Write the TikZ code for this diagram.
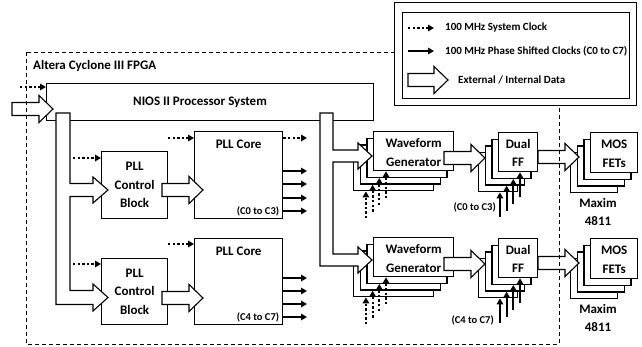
\documentclass[tikz,border=0pt]{standalone}
\usepackage{fontspec}
\setmainfont{Carlito}
\usetikzlibrary{arrows.meta,calc}
\tikzset{
 box/.style={draw, line width=1.3pt, fill=white, inner sep=0pt, anchor=north west},
 fat/.style={draw, line width=1.1pt, fill=white, line join=miter},
 clk/.style={line width=2pt, dash pattern=on 2.4pt off 2.2pt, -{Triangle[length=6pt,width=6.5pt]}},
 phs/.style={line width=2pt, -{Triangle[length=6pt,width=6.5pt]}},
 lbl/.style={font=\bfseries\fontsize{13}{18.5}\selectfont, inner sep=0pt, align=center},
 sml/.style={font=\bfseries\fontsize{10.5}{12}\selectfont, inner sep=0pt},
 leg/.style={font=\bfseries\fontsize{11}{12}\selectfont, inner sep=0pt, anchor=west},
 frame/.style={line width=0.9pt, dash pattern=on 4pt off 3pt},
}
\newcommand\bx[5]{\node[box,minimum width={((#4)-(#2))*1pt},minimum height={((#5)-(#3))*1pt}] (#1) at (#2,#3) {};}
\newcommand\stk[5]{%
 \foreach \k in {3,2,1}{\bx{#1-\k}{#2-6.7*\k}{#3+6.7*\k}{#4-6.7*\k}{#5+6.7*\k}}
 \bx{#1}{#2}{#3}{#4}{#5}}
\newcommand\fat[3]{\path[fat] (#1,#3-6.5) -- (#2-14,#3-6.5) -- (#2-14,#3-13.5) -- (#2,#3) -- (#2-14,#3+13.5) -- (#2-14,#3+6.5) -- (#1,#3+6.5) -- cycle;}
\begin{document}
\begin{tikzpicture}[x=1pt,y=-1pt]
\path[use as bounding box, fill=white] (0,0) rectangle (642,347);
% NIOS
\bx{nios}{46}{83}{373}{120}
\node[lbl] (niosT) at (200,102) {NIOS II Processor System};
% PLL blocks
\bx{ctlA}{101}{151}{167}{218}
\bx{coreA}{194}{131}{282}{218}
\bx{ctlB}{101}{258}{167}{324}
\bx{coreB}{194}{238}{282}{324}
\node[lbl] at (ctlA) {PLL\\Control\\Block};
\node[lbl] at (ctlB) {PLL\\Control\\Block};
\node[lbl] at ([yshift=-13pt]coreA.north) {PLL Core};
\node[lbl] at ([yshift=-13pt]coreB.north) {PLL Core};
\node[sml,anchor=east] at ([xshift=-4pt,yshift=8pt]coreA.south east) {(C0 to C3)};
\node[sml,anchor=east] at ([xshift=-4pt,yshift=8pt]coreB.south east) {(C4 to C7)};
% stacks
\stk{wgA}{373}{131}{453}{170}
\stk{ffA}{498}{132}{537}{171}
\stk{mosA}{590}{132}{637}{172}
\stk{wgB}{373}{237}{453}{276}
\stk{ffB}{498}{238}{537}{277}
\stk{mosB}{590}{238}{637}{278}
\node[lbl] at ([yshift=-1.5pt]wgA) {Waveform\\Generator};
\node[lbl] at ([yshift=-1.5pt]wgB) {Waveform\\Generator};
\node[lbl] at ([yshift=-1pt]ffA) {Dual\\FF};
\node[lbl] at ([yshift=-1pt]ffB) {Dual\\FF};
\node[lbl] at ([yshift=-1pt]mosA) {MOS\\FETs};
\node[lbl] at ([yshift=-1pt]mosB) {MOS\\FETs};
\node[lbl] at (598,203) {Maxim};
\node[lbl] at (598,221) {4811};
\node[lbl] at (598,309) {Maxim};
\node[lbl] at (598,327) {4811};
% buses
\path[fat] (56,113) -- (70,113) -- (70,183.5) -- (93,183.5) -- (93,177) -- (108,190) -- (93,203) -- (93,196.5) -- (70,196.5) -- (70,290.5) -- (93,290.5) -- (93,284) -- (108,297.5) -- (93,311) -- (93,304.5) -- (56,304.5) -- cycle;
\path[fat] (320,113) -- (333,113) -- (333,150) -- (358,150) -- (358,143) -- (372,156) -- (358,169) -- (358,162) -- (333,162) -- (333,254) -- (358,254) -- (358,247) -- (372,260) -- (358,273) -- (358,266) -- (320,266) -- cycle;
% fat arrows
\fat{12}{53}{109}
\fat{162}{203}{190}
\fat{162}{203}{298}
\fat{444}{485}{158}
\fat{444}{485}{264}
\fat{538}{579}{157}
\fat{538}{579}{263}
% clocks
\draw[clk] (20,87) -- (nios.west |- 0,87);
\draw[clk] (73,158) -- (ctlA.west |- 0,158);
\draw[clk] (168,138) -- (coreA.west |- 0,138);
\draw[clk] (coreA.east |- 0,138) -- (307,138);
\draw[clk] (73,264) -- (ctlB.west |- 0,264);
\draw[clk] (168,244) -- (coreB.west |- 0,244);
\foreach \y in {171,184,198,211} \draw[phs] (coreA.east |- 0,\y) -- (307,\y);
\foreach \y in {278,291,304,317} \draw[phs] (coreB.east |- 0,\y) -- (307,\y);
\foreach \n in {wgA,wgB}{
 \foreach \k in {1,2,3} \draw[clk] ([xshift=13pt,yshift=-27pt]\n-\k.south west) -- ([xshift=13pt]\n-\k.south west);
 \draw[clk] ([xshift=13pt,yshift=-27pt]\n.south west) -- ([xshift=13pt]\n.south west);
}
\foreach \n in {ffA,ffB}{
 \foreach \k in {1,2,3} \draw[phs] ([xshift=22pt,yshift=-25pt]\n-\k.south west) -- ([xshift=22pt]\n-\k.south west);
 \draw[phs] ([xshift=22pt,yshift=-25pt]\n.south west) -- ([xshift=22pt]\n.south west);
}
\node[sml,anchor=east] at (496,207) {(C0 to C3)};
\node[sml,anchor=east] at (494,320) {(C4 to C7)};
% FPGA frame
\draw[frame] (26,52) rectangle (559,344);
\node[lbl,anchor=west] (fpga) at (33,66) {Altera Cyclone III FPGA};
% legend
\bx{legO}{394}{2}{636}{105}
\bx{legI}{402}{12}{629}{98}
\draw[clk] (408,28) -- (434,28);
\draw[phs] (408,51) -- (434,51);
\fat{408}{448}{80}
\node[leg] at (445,28) {100 MHz System Clock};
\node[leg] at (445,51) {100 MHz Phase Shifted Clocks (C0 to C7)};
\node[leg] at (458,80) {External / Internal Data};
\end{tikzpicture}
\end{document}
